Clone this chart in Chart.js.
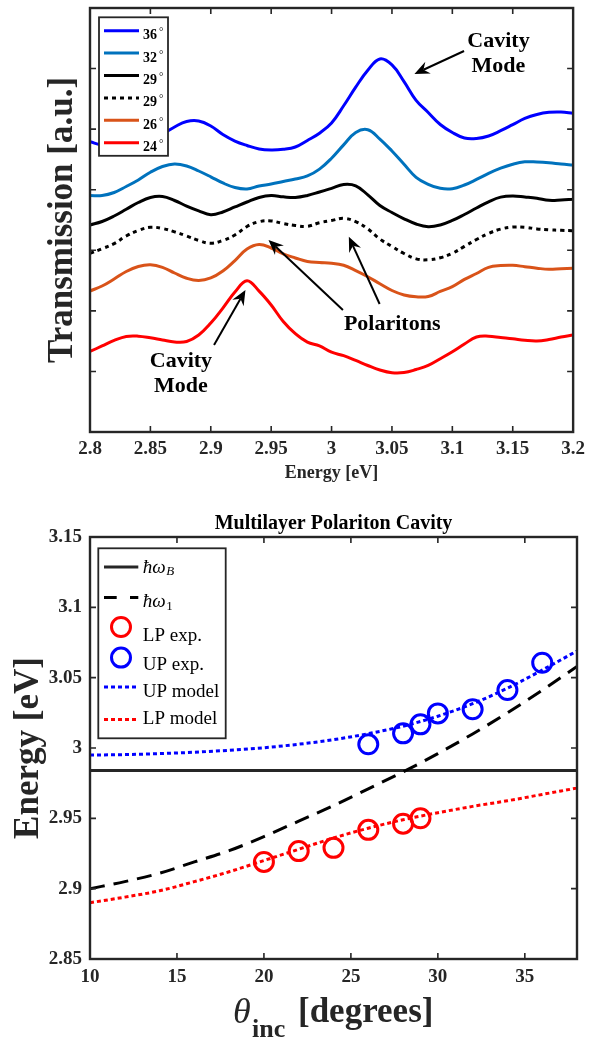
<!DOCTYPE html>
<html>
<head>
<meta charset="utf-8">
<script src="https://cdn.jsdelivr.net/npm/chart.js@4.4.1/dist/chart.umd.min.js"></script>
<style>
  html, body { margin: 0; padding: 0; background: #ffffff; }
  canvas { display: block; }
</style>
</head>
<body>
<canvas id="spectra" width="591" height="495"></canvas>
<canvas id="dispersion" width="591" height="545"></canvas>
<script>
// ---------------- Transmission spectra (offset for clarity) ----------------
const energyEV = [2.80, 2.81, 2.82, 2.83, 2.84, 2.85, 2.86, 2.87, 2.88, 2.89,
                  2.90, 2.91, 2.92, 2.93, 2.94, 2.95, 2.96, 2.97, 2.98, 2.99,
                  3.00, 3.01, 3.02, 3.03, 3.04, 3.05, 3.06, 3.07, 3.08, 3.09,
                  3.10, 3.11, 3.12, 3.13, 3.14, 3.15, 3.16, 3.17, 3.18, 3.19, 3.20];

const spectrum36 = [4.793, 4.738, 4.747, 4.771, 4.804, 4.846, 4.920, 5.036, 5.126, 5.135,
                    5.052, 4.912, 4.804, 4.730, 4.672, 4.656, 4.667, 4.705, 4.813, 4.933,
                    5.102, 5.386, 5.693, 5.972, 6.158, 6.060, 5.785, 5.475, 5.275, 5.077,
                    4.945, 4.854, 4.846, 4.887, 4.974, 5.074, 5.176, 5.242, 5.278, 5.283, 5.262];
const spectrum32 = [3.904, 3.904, 3.954, 4.053, 4.161, 4.288, 4.383, 4.425, 4.392, 4.309,
                    4.213, 4.111, 4.036, 4.012, 4.061, 4.094, 4.136, 4.177, 4.227, 4.340,
                    4.519, 4.740, 4.945, 4.990, 4.837, 4.639, 4.420, 4.205, 4.090, 4.023,
                    4.017, 4.078, 4.169, 4.269, 4.355, 4.421, 4.461, 4.458, 4.446, 4.425, 4.408];
const spectrum29 = [3.418, 3.475, 3.566, 3.677, 3.789, 3.872, 3.888, 3.822, 3.731, 3.652,
                    3.588, 3.632, 3.715, 3.797, 3.872, 3.904, 3.883, 3.872, 3.905, 3.962,
                    4.023, 4.086, 4.064, 3.915, 3.739, 3.624, 3.520, 3.434, 3.390, 3.418,
                    3.492, 3.591, 3.698, 3.801, 3.877, 3.896, 3.880, 3.860, 3.825, 3.830, 3.842];
const spectrum29b = [2.950, 3.026, 3.110, 3.236, 3.327, 3.380, 3.360, 3.305, 3.236, 3.162,
                     3.115, 3.162, 3.252, 3.393, 3.472, 3.484, 3.442, 3.409, 3.396, 3.454,
                     3.492, 3.527, 3.474, 3.353, 3.186, 3.064, 2.947, 2.859, 2.843, 2.876,
                     2.950, 3.064, 3.178, 3.279, 3.350, 3.383, 3.380, 3.353, 3.338, 3.330, 3.323];
const spectrum26 = [2.328, 2.410, 2.526, 2.650, 2.732, 2.760, 2.719, 2.625, 2.538, 2.501,
                    2.543, 2.658, 2.831, 3.021, 3.096, 3.038, 2.939, 2.873, 2.815, 2.798,
                    2.787, 2.752, 2.665, 2.564, 2.447, 2.336, 2.262, 2.232, 2.237, 2.320,
                    2.399, 2.519, 2.617, 2.718, 2.747, 2.752, 2.729, 2.704, 2.686, 2.696, 2.703];
const spectrum24 = [1.329, 1.420, 1.511, 1.577, 1.582, 1.555, 1.519, 1.486, 1.494, 1.601,
                    1.798, 2.046, 2.311, 2.498, 2.326, 2.097, 1.824, 1.623, 1.483, 1.420,
                    1.317, 1.260, 1.182, 1.098, 1.024, 0.979, 0.982, 1.032, 1.100, 1.210,
                    1.326, 1.453, 1.568, 1.582, 1.560, 1.539, 1.514, 1.502, 1.527, 1.568, 1.601];

const spectrumAngles = ['36', '32', '29', '29', '26', '24'];

// ---------------- Dispersion of the multilayer polariton cavity ----------------
const thetaModel = [10, 12, 14, 16, 18, 20, 22, 24, 26, 28, 30, 32, 34, 36, 38];
const cavityMode = [2.900, 2.905, 2.911, 2.919, 2.927, 2.937, 2.948, 2.959, 2.971, 2.983,
                    2.996, 3.010, 3.025, 3.041, 3.058];
const upperModel = [2.995, 2.9953, 2.996, 2.997, 2.9984, 3.0002, 3.0027, 3.0059, 3.0102, 3.0155,
                    3.0226, 3.0315, 3.0425, 3.0554, 3.069];
const lowerModel = [2.890, 2.894, 2.8985, 2.905, 2.912, 2.920, 2.928, 2.936, 2.943, 2.949,
                    2.954, 2.9585, 2.9625, 2.967, 2.9715];
const lpTheta = [20, 22, 24, 26, 28, 29];
const lpEnergy = [2.919, 2.9267, 2.929, 2.9418, 2.9462, 2.950];
const upTheta = [26, 28, 29, 30, 32, 34, 36];
const upEnergy = [3.0026, 3.0104, 3.0168, 3.0246, 3.0275, 3.0412, 3.0606];
const braggEnergy = 2.984;
const thetaRange = [10, 38];

// ---------------- shared styling ----------------
const SERIF = "'Liberation Serif', 'Times New Roman', serif";
const INK = '#262626';
const TICK_LEN = 6;
Chart.defaults.font.family = SERIF;
Chart.defaults.color = INK;

const trimNumber = v => String(Number(v.toFixed(2)));
const pairs = (xs, ys) => xs.map((x, i) => ({ x, y: ys[i] }));

// Box around the plot with inward tick marks on all four sides
const boxFrame = {
  id: 'boxFrame',
  afterDatasetsDraw(chart) {
    const { ctx, chartArea: a, scales: { x, y } } = chart;
    ctx.save();
    ctx.strokeStyle = INK;
    ctx.lineWidth = 1.6;
    ctx.beginPath();
    x.ticks.forEach(t => {
      const px = x.getPixelForValue(t.value);
      ctx.moveTo(px, a.bottom); ctx.lineTo(px, a.bottom - TICK_LEN);
      ctx.moveTo(px, a.top); ctx.lineTo(px, a.top + TICK_LEN);
    });
    y.ticks.forEach(t => {
      const py = y.getPixelForValue(t.value);
      ctx.moveTo(a.left, py); ctx.lineTo(a.left + TICK_LEN, py);
      ctx.moveTo(a.right, py); ctx.lineTo(a.right - TICK_LEN, py);
    });
    ctx.stroke();
    ctx.lineWidth = 2.4;
    ctx.strokeRect(a.left, a.top, a.right - a.left, a.bottom - a.top);
    ctx.restore();
  }
};

function drawArrow(ctx, x0, y0, x1, y1) {
  const ang = Math.atan2(y1 - y0, x1 - x0);
  const L = 15, W = 6.5, notch = 10;
  const c = Math.cos(ang), s = Math.sin(ang);
  ctx.beginPath();
  ctx.moveTo(x0, y0);
  ctx.lineTo(x1 - c * notch, y1 - s * notch);
  ctx.stroke();
  ctx.beginPath();
  ctx.moveTo(x1, y1);
  ctx.lineTo(x1 - c * L - s * W, y1 - s * L + c * W);
  ctx.lineTo(x1 - c * notch, y1 - s * notch);
  ctx.lineTo(x1 - c * L + s * W, y1 - s * L - c * W);
  ctx.closePath();
  ctx.fill();
}

// ---------------- top chart ----------------
const spectraSeries = [spectrum36, spectrum32, spectrum29, spectrum29b, spectrum26, spectrum24];
const spectraColors = ['#0000FF', '#0072BD', '#000000', '#000000', '#D95319', '#FF0000'];
const spectraDash = [[], [], [], [4, 4], [], []];

const spectraNotes = [
  { text: ['Cavity', 'Mode'], x: 3.1382, y: [6.361, 5.949] },
  { text: ['Cavity', 'Mode'], x: 2.8753, y: [1.078, 0.665] },
  { text: ['Polaritons'], x: 3.0502, y: [1.684] }
];
const spectraArrows = [
  { from: [3.1097, 6.290], to: [3.0686, 5.911] },
  { from: [2.9027, 1.436], to: [2.9287, 2.344] },
  { from: [3.0094, 2.014], to: [2.9478, 3.170] },
  { from: [3.0398, 2.113], to: [3.0143, 3.224] }
];

const spectraDecor = {
  id: 'spectraDecor',
  afterDraw(chart) {
    const { ctx, chartArea: a, scales: { x, y } } = chart;
    ctx.save();
    // legend
    const bx = a.left + 9, by = a.top + 9.3, bw = 69, bh = 138.5;
    ctx.fillStyle = '#ffffff';
    ctx.fillRect(bx, by, bw, bh);
    ctx.strokeStyle = INK;
    ctx.lineWidth = 1.8;
    ctx.strokeRect(bx, by, bw, bh);
    chart.data.datasets.forEach((ds, i) => {
      const ly = by + 13.4 + i * 22.4;
      ctx.strokeStyle = ds.borderColor;
      ctx.lineWidth = 3;
      ctx.setLineDash(ds.borderDash || []);
      ctx.beginPath();
      ctx.moveTo(bx + 5, ly);
      ctx.lineTo(bx + 40, ly);
      ctx.stroke();
      ctx.setLineDash([]);
      ctx.fillStyle = '#000000';
      ctx.textAlign = 'left';
      ctx.textBaseline = 'alphabetic';
      ctx.font = 'bold 14px ' + SERIF;
      ctx.fillText(spectrumAngles[i], bx + 44, ly + 8.5);
      ctx.font = '11px ' + SERIF;
      ctx.fillText('\u00B0', bx + 60, ly + 4.5);
    });
    // annotations
    ctx.fillStyle = '#000000';
    ctx.strokeStyle = '#000000';
    ctx.lineWidth = 2;
    ctx.font = 'bold 22px ' + SERIF;
    ctx.textAlign = 'center';
    spectraNotes.forEach(n => {
      n.text.forEach((t, k) => ctx.fillText(t, x.getPixelForValue(n.x), y.getPixelForValue(n.y[k])));
    });
    spectraArrows.forEach(r => {
      drawArrow(ctx, x.getPixelForValue(r.from[0]), y.getPixelForValue(r.from[1]),
                     x.getPixelForValue(r.to[0]), y.getPixelForValue(r.to[1]));
    });
    // axis titles
    ctx.fillStyle = INK;
    ctx.font = 'bold 18px ' + SERIF;
    ctx.fillText('Energy [eV]', (a.left + a.right) / 2, a.bottom + 46);
    ctx.save();
    ctx.translate(a.left - 18, (a.top + a.bottom) / 2);
    ctx.rotate(-Math.PI / 2);
    ctx.font = 'bold 35px ' + SERIF;
    ctx.fillText('Transmission [a.u.]', 0, 0);
    ctx.restore();
    ctx.restore();
  }
};

new Chart(document.getElementById('spectra'), {
  type: 'line',
  data: {
    datasets: spectraSeries.map((s, i) => ({
      label: spectrumAngles[i] + '\u00B0',
      data: pairs(energyEV, s),
      borderColor: spectraColors[i],
      borderDash: spectraDash[i],
      borderWidth: 3,
      pointRadius: 0,
      fill: false,
      tension: 0.4
    }))
  },
  options: {
    responsive: false,
    animation: false,
    events: [],
    devicePixelRatio: 1,
    layout: { padding: { left: 0, right: 14, top: 8, bottom: 0 } },
    plugins: { legend: { display: false }, tooltip: { enabled: false } },
    scales: {
      x: {
        type: 'linear', min: 2.8, max: 3.2,
        grid: { display: false, drawTicks: false },
        border: { display: false },
        ticks: { stepSize: 0.05, includeBounds: false, padding: 6, maxRotation: 0, autoSkip: false,
                 color: INK, font: { size: 19, weight: 'bold' }, callback: trimNumber },
        afterFit: s => { s.height = 63; }
      },
      y: {
        type: 'linear', min: 0, max: 7,
        grid: { display: false, drawTicks: false },
        border: { display: false },
        ticks: { stepSize: 1, display: false },
        afterFit: s => { s.width = 90; }
      }
    }
  },
  plugins: [boxFrame, spectraDecor]
});

// ---------------- bottom chart ----------------
const legendLabels = [
  [{ t: '\u0127\u03C9', f: 'italic 19px' }, { t: 'B', f: 'italic 13px', dy: 2.5 }],
  [{ t: '\u0127\u03C9', f: 'italic 19px' }, { t: '1', f: '13px', dy: 3 }],
  [{ t: 'LP exp.', f: '19px' }],
  [{ t: 'UP exp.', f: '19px' }],
  [{ t: 'UP model', f: '19px' }],
  [{ t: 'LP model', f: '19px' }]
];
const legendMarkY = [18.7, 49.3, 78.7, 109.3, 138.7, 171.3];
const legendTextY = [24.5, 59, 92.7, 122, 148.5, 176];

const dispersionDecor = {
  id: 'dispersionDecor',
  afterDraw(chart) {
    const { ctx, chartArea: a } = chart;
    ctx.save();
    // legend
    const bx = a.left + 8.3, by = a.top + 11.3, bw = 127.4, bh = 190;
    ctx.fillStyle = '#ffffff';
    ctx.fillRect(bx, by, bw, bh);
    ctx.strokeStyle = INK;
    ctx.lineWidth = 1.8;
    ctx.strokeRect(bx, by, bw, bh);
    chart.data.datasets.forEach((ds, i) => {
      const my = by + legendMarkY[i];
      if (ds.showLine === false) {
        ctx.strokeStyle = ds.borderColor;
        ctx.lineWidth = ds.borderWidth;
        ctx.setLineDash([]);
        ctx.beginPath();
        ctx.arc(bx + 22.7, my, ds.pointRadius, 0, Math.PI * 2);
        ctx.stroke();
      } else {
        ctx.strokeStyle = ds.borderColor;
        ctx.lineWidth = ds.borderWidth;
        ctx.setLineDash(ds.legendDash || ds.borderDash || []);
        ctx.beginPath();
        ctx.moveTo(bx + 5.7, my);
        ctx.lineTo(bx + 40, my);
        ctx.stroke();
        ctx.setLineDash([]);
      }
      let tx = bx + 44.5;
      ctx.fillStyle = '#000000';
      ctx.textAlign = 'left';
      ctx.textBaseline = 'alphabetic';
      legendLabels[i].forEach(p => {
        ctx.font = p.f + ' ' + SERIF;
        ctx.fillText(p.t, tx, by + legendTextY[i] + (p.dy || 0));
        tx += ctx.measureText(p.t).width + 0.5;
      });
    });
    // title
    ctx.fillStyle = '#000000';
    ctx.textAlign = 'center';
    ctx.font = 'bold 20px ' + SERIF;
    ctx.fillText('Multilayer Polariton Cavity', (a.left + a.right) / 2, a.top - 8.5);
    // axis titles
    ctx.fillStyle = INK;
    ctx.textAlign = 'left';
    ctx.font = 'italic 36px ' + SERIF;
    ctx.fillText('\u03B8', a.left + 143, a.bottom + 64);
    ctx.font = 'bold 26px ' + SERIF;
    ctx.fillText('inc', a.left + 162, a.bottom + 78);
    ctx.font = 'bold 35px ' + SERIF;
    ctx.fillText('[degrees]', a.left + 208, a.bottom + 63);
    ctx.save();
    ctx.translate(a.left - 52, (a.top + a.bottom) / 2);
    ctx.rotate(-Math.PI / 2);
    ctx.textAlign = 'center';
    ctx.fillText('Energy [eV]', 0, 0);
    ctx.restore();
    ctx.restore();
  }
};

const lineSet = (label, xs, ys, color, dash, order) => ({
  type: 'line', label, data: pairs(xs, ys), borderColor: color, borderDash: dash,
  borderWidth: 3, pointRadius: 0, fill: false, showLine: true, order
});

new Chart(document.getElementById('dispersion'), {
  type: 'scatter',
  data: {
    datasets: [
      lineSet('hbar omega_B', thetaRange, thetaRange.map(() => braggEnergy), INK, [], 6),
      Object.assign(lineSet('hbar omega_1', thetaModel, cavityMode, '#000000', [15, 9], 5),
                    { legendDash: [12.7, 13.3] }),
      { label: 'LP exp.', data: pairs(lpTheta, lpEnergy), showLine: false, pointStyle: 'circle',
        pointRadius: 9.5, borderWidth: 3, borderColor: '#FF0000', backgroundColor: 'rgba(0,0,0,0)', order: 4 },
      { label: 'UP exp.', data: pairs(upTheta, upEnergy), showLine: false, pointStyle: 'circle',
        pointRadius: 9.5, borderWidth: 3, borderColor: '#0000FF', backgroundColor: 'rgba(0,0,0,0)', order: 3 },
      lineSet('UP model', thetaModel, upperModel, '#0000FF', [4, 3], 2),
      lineSet('LP model', thetaModel, lowerModel, '#FF0000', [4, 3], 1)
    ]
  },
  options: {
    responsive: false,
    animation: false,
    events: [],
    devicePixelRatio: 1,
    layout: { padding: { left: 0, right: 14, top: 42, bottom: 0 } },
    plugins: { legend: { display: false }, tooltip: { enabled: false } },
    elements: { line: { tension: 0.4, cubicInterpolationMode: 'monotone' } },
    scales: {
      x: {
        type: 'linear', min: thetaRange[0], max: thetaRange[1],
        grid: { display: false, drawTicks: false },
        border: { display: false },
        ticks: { stepSize: 5, includeBounds: false, padding: 7, maxRotation: 0, autoSkip: false,
                 color: INK, font: { size: 19, weight: 'bold' } },
        afterFit: s => { s.height = 81; }
      },
      y: {
        type: 'linear', min: 2.85, max: 3.15,
        grid: { display: false, drawTicks: false },
        border: { display: false },
        ticks: { stepSize: 0.05, includeBounds: false, padding: 8, autoSkip: false,
                 color: INK, font: { size: 19, weight: 'bold' }, callback: trimNumber },
        afterFit: s => { s.width = 90; }
      }
    }
  },
  plugins: [boxFrame, dispersionDecor]
});
</script>
</body>
</html>
